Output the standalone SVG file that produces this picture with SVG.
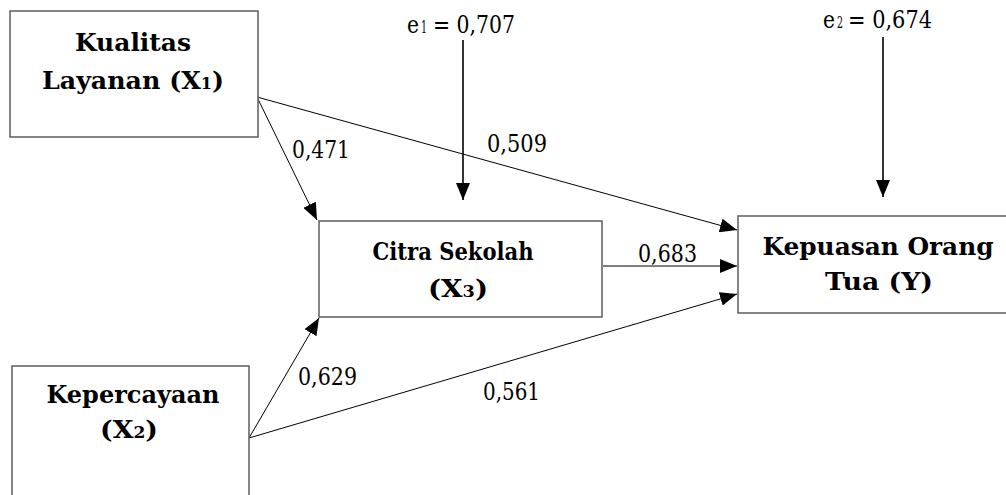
<svg xmlns="http://www.w3.org/2000/svg" width="1006" height="495" viewBox="0 0 1006 495">
<style>
.box{fill:#fff;stroke:#666;stroke-width:1.6}
.node{font-family:'DejaVu Serif','Liberation Serif',serif;font-weight:bold;font-size:25px;fill:#000;text-anchor:middle}
.lbl{font-family:'DejaVu Serif','Liberation Serif',serif;font-size:25px;fill:#000}
.sub{font-size:16px}
.edge{stroke:#000;stroke-width:1;fill:none;marker-end:url(#ah)}
.edgev{stroke:#000;stroke-width:1.6;fill:none;marker-end:url(#ah)}
</style>
<defs>
<marker id="ah" markerUnits="userSpaceOnUse" markerWidth="18" markerHeight="14" viewBox="0 0 18 14" refX="17" refY="7" orient="auto">
<path d="M0,0 L17,7 L0,14 Z" fill="#000"/>
</marker>
</defs>
<rect width="1006" height="495" fill="#fff"/>
<g id="connectors">
<line class="edge" x1="257" y1="97" x2="317" y2="220"/>
<line class="edge" x1="257" y1="97" x2="737" y2="230"/>
<line class="edge" x1="603" y1="266" x2="737" y2="266"/>
<line class="edge" x1="249" y1="438" x2="319" y2="318"/>
<line class="edge" x1="249" y1="438" x2="737" y2="294"/>
<line class="edgev" x1="463" y1="40" x2="463" y2="200"/>
<line class="edgev" x1="883" y1="37" x2="883" y2="197"/>
</g>
<g id="labels">
<text class="lbl" x="292" y="158" textLength="58" lengthAdjust="spacingAndGlyphs">0,471</text>
<text class="lbl" x="487" y="152" textLength="60" lengthAdjust="spacingAndGlyphs">0,509</text>
<text class="lbl" x="638" y="262" textLength="59" lengthAdjust="spacingAndGlyphs">0,683</text>
<text class="lbl" x="298" y="385" textLength="59" lengthAdjust="spacingAndGlyphs">0,629</text>
<text class="lbl" x="483" y="400" textLength="57" lengthAdjust="spacingAndGlyphs">0,561</text>
</g>
<g id="e1">
<text class="lbl" x="407" y="33" textLength="12" lengthAdjust="spacingAndGlyphs">e</text>
<text class="lbl sub" x="421" y="33" textLength="6" lengthAdjust="spacingAndGlyphs">1</text>
<text class="lbl" x="433" y="33" textLength="82" lengthAdjust="spacingAndGlyphs">= 0,707</text>
</g>
<g id="e2">
<text class="lbl" x="823" y="28" textLength="12" lengthAdjust="spacingAndGlyphs">e</text>
<text class="lbl sub" x="837" y="28" textLength="6" lengthAdjust="spacingAndGlyphs">2</text>
<text class="lbl" x="848" y="28" textLength="84" lengthAdjust="spacingAndGlyphs">= 0,674</text>
</g>
<g id="x1">
<rect class="box" x="10" y="11" width="248" height="126"/>
<text class="node" x="133" y="51" textLength="116" lengthAdjust="spacingAndGlyphs">Kualitas</text>
<text class="node" x="133" y="89" textLength="182" lengthAdjust="spacingAndGlyphs">Layanan (X<tspan class="sub">1</tspan>)</text>
</g>
<g id="x2">
<rect class="box" x="12" y="366" width="237" height="140"/>
<text class="node" x="133" y="403" textLength="173" lengthAdjust="spacingAndGlyphs">Kepercayaan</text>
<text class="node" x="129" y="438" textLength="58" lengthAdjust="spacingAndGlyphs">(X<tspan class="sub">2</tspan>)</text>
</g>
<g id="x3">
<rect class="box" x="319" y="221" width="283" height="96"/>
<text class="node" x="453" y="260" textLength="161" lengthAdjust="spacingAndGlyphs">Citra Sekolah</text>
<text class="node" x="458" y="297" textLength="60" lengthAdjust="spacingAndGlyphs">(X<tspan class="sub">3</tspan>)</text>
</g>
<g id="y">
<rect class="box" x="738" y="216" width="280" height="97"/>
<text class="node" x="878" y="255" textLength="231" lengthAdjust="spacingAndGlyphs">Kepuasan Orang</text>
<text class="node" x="879" y="290" textLength="108" lengthAdjust="spacingAndGlyphs">Tua (Y)</text>
</g>
</svg>
